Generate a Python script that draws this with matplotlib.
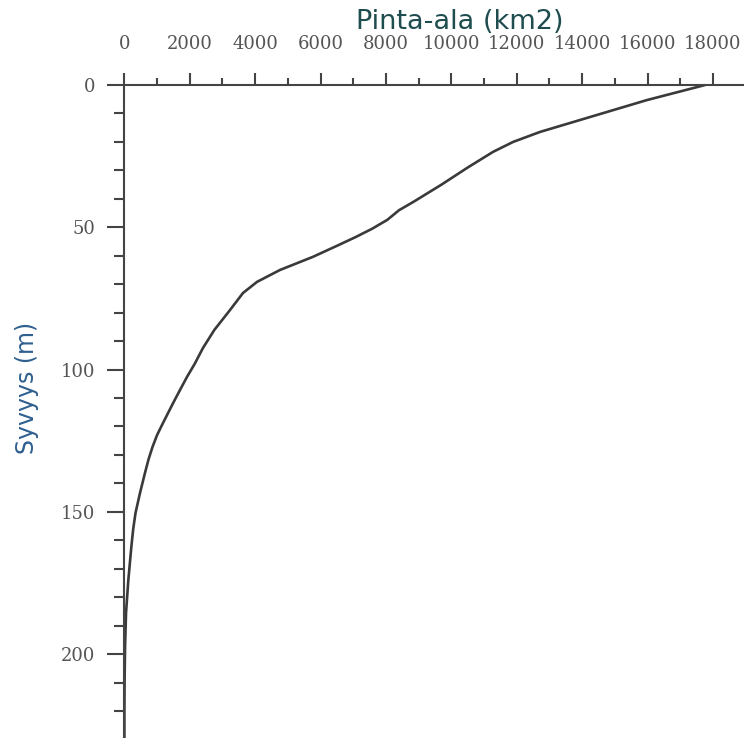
import matplotlib
matplotlib.use("Agg")
import matplotlib.pyplot as plt
from matplotlib.ticker import MultipleLocator

# depth (m) and lake area at that depth (km2)
depth = [0, 5.3, 12.3, 16.5, 20, 23.5, 29, 35, 41, 44, 47.4, 50.5, 53.4,
         56.2, 60.4, 65, 69.2, 73.1, 79.1, 86.1, 92.4, 98, 102.6, 107.2,
         112, 118.8, 123, 127.2, 131.5, 136.3, 143.4, 150.4, 156, 162, 174,
         185.5, 197.5, 210, 220.7, 229.4]
area = [17760, 15980, 13935, 12710, 11890, 11275, 10500, 9700, 8850, 8400,
        8040, 7580, 7080, 6560, 5765, 4760, 4055, 3627, 3229, 2750, 2404,
        2150, 1914, 1700, 1480, 1180, 1000, 860, 740, 630, 477, 340, 270,
        215, 120, 50, 20, 5, 0, 0]

xlabel = 'Pinta-ala (km2)'
ylabel = 'Syvyys (m)'

W, H = 744, 738
fig = plt.figure(figsize=(W / 100, H / 100), dpi=100)
x0, y0 = 124.4, 85
ax = fig.add_axes([x0 / W, 0, 1 - x0 / W, 1 - y0 / H])

ax.plot(area, depth, color='#3a3a3a', lw=1.9, solid_capstyle='round',
        solid_joinstyle='round')

ax.set_xlim(0, 18950)
ax.set_ylim(229.5, 0)

ax.xaxis.tick_top()
ax.xaxis.set_major_locator(MultipleLocator(2000))
ax.xaxis.set_minor_locator(MultipleLocator(1000))
ax.yaxis.set_major_locator(MultipleLocator(50))
ax.yaxis.set_minor_locator(MultipleLocator(10))

for s in ['right', 'bottom']:
    ax.spines[s].set_visible(False)
for s in ['left', 'top']:
    ax.spines[s].set_color('#444444')
    ax.spines[s].set_linewidth(1.5)

ax.tick_params(axis='x', which='major', length=9, width=1.5, pad=14,
               color='#444444', labelcolor='#555555', labelsize=13)
ax.tick_params(axis='x', which='minor', length=5, width=1.5, color='#444444')
ax.tick_params(axis='y', which='major', length=12, width=1.5, pad=9,
               color='#444444', labelcolor='#555555', labelsize=13)
ax.tick_params(axis='y', which='minor', length=7, width=1.5, color='#444444')
for lab in ax.get_xticklabels() + ax.get_yticklabels():
    lab.set_family('DejaVu Serif')

fig.text(460 / W, 1 - 22 / H, xlabel, ha='center', va='center',
         fontsize=19.5, color='#1f4d4f', family='DejaVu Sans')
fig.text(27 / W, 1 - 388 / H, ylabel, ha='center', va='center',
         rotation=90, fontsize=17, color='#2e5f8f', family='DejaVu Sans')

fig.savefig('out.png', dpi=100)
